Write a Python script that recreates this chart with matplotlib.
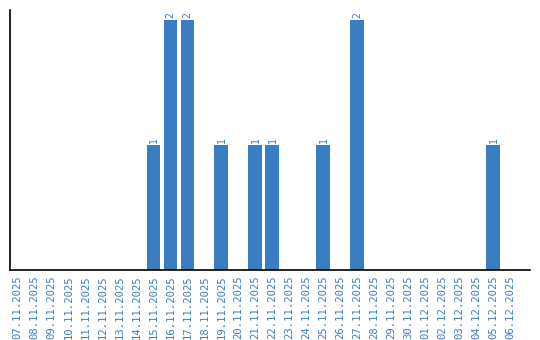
import matplotlib
matplotlib.use("Agg")
import matplotlib.pyplot as plt

dates = ["07.11.2025", "08.11.2025", "09.11.2025", "10.11.2025", "11.11.2025",
         "12.11.2025", "13.11.2025", "14.11.2025", "15.11.2025", "16.11.2025",
         "17.11.2025", "18.11.2025", "19.11.2025", "20.11.2025", "21.11.2025",
         "22.11.2025", "23.11.2025", "24.11.2025", "25.11.2025", "26.11.2025",
         "27.11.2025", "28.11.2025", "29.11.2025", "30.11.2025", "01.12.2025",
         "02.12.2025", "03.12.2025", "04.12.2025", "05.12.2025", "06.12.2025"]
counts = [0, 0, 0, 0, 0, 0, 0, 0, 1, 2,
          2, 0, 1, 0, 1, 1, 0, 0, 1, 0,
          2, 0, 0, 0, 0, 0, 0, 0, 1, 0]

color = "#3a7dc2"

fig = plt.figure(figsize=(5.4, 3.4), dpi=100)
ax = fig.add_axes([10/540, 70/340, 520/540, 260/340])
x = list(range(len(dates)))
ax.bar(x, counts, width=0.82, color=color)
for xi, c in zip(x, counts):
    if c > 0:
        ax.text(xi, c + 0.02, str(c), rotation=90, ha="center", va="bottom",
                color=color, fontsize=7, family="DejaVu Sans Mono")
ax.set_xlim(-0.44, 30.15)
ax.set_ylim(0, 2.08)
ax.set_xticks(x)
ax.set_xticklabels(dates, rotation=90, color=color, fontsize=7.6, family="DejaVu Sans Mono")
ax.tick_params(axis="x", length=0, pad=4)
ax.set_yticks([])
for s in ["top", "right"]:
    ax.spines[s].set_visible(False)
ax.spines["left"].set_linewidth(1.2)
ax.spines["bottom"].set_linewidth(1.2)
fig.savefig("out.png", dpi=100)
